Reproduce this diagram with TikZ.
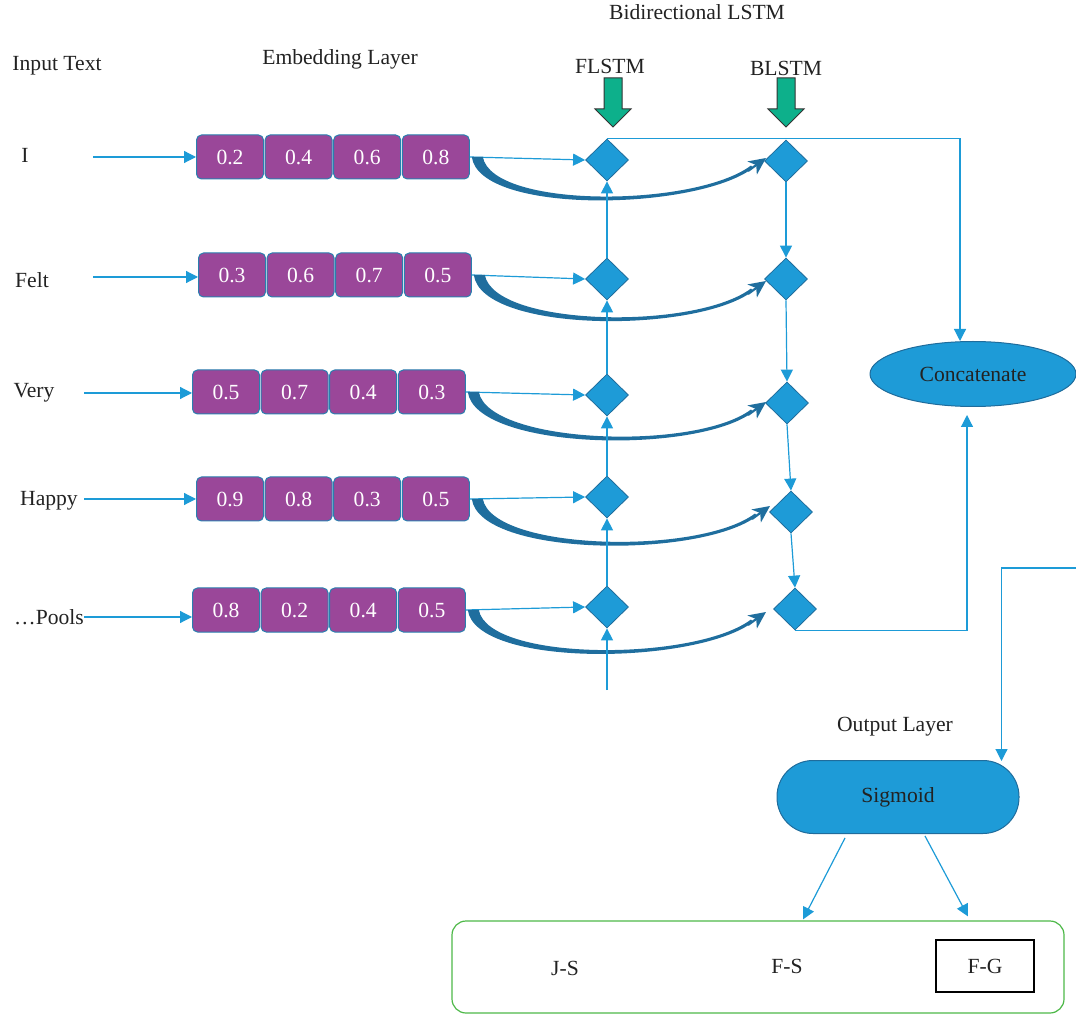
\documentclass[tikz,border=0pt]{standalone}
\usepackage{fontspec}
\setmainfont{Liberation Serif}
\usetikzlibrary{positioning,calc,shapes.geometric,arrows.meta}

\definecolor{flowblue}{HTML}{1D9BD7}
\definecolor{lstmblue}{HTML}{1E9BD7}
\definecolor{lstmedge}{HTML}{1F6C9C}
\definecolor{cellpurple}{HTML}{9A4799}
\definecolor{celledge}{HTML}{2A7FAF}
\definecolor{bendblue}{HTML}{1F6E9E}
\definecolor{downgreen}{HTML}{0DB08B}
\definecolor{boxgreen}{HTML}{4DB848}
\definecolor{textgray}{HTML}{222222}

\begin{document}
\begin{tikzpicture}[x=0.5pt,y=-0.5pt,font=\fontsize{10.8}{13}\selectfont,text=textgray]
    \tikzstyle{flow}=[draw=flowblue,line width=0.6pt,-{Triangle[length=6pt,width=6pt]}]
    \tikzstyle{cell}=[draw=celledge,fill=cellpurple,line width=0.5pt,rounded corners=2.5pt,minimum width=33.5pt,minimum height=22pt,inner sep=0pt,text=white]
    \tikzstyle{lstm}=[diamond,draw=lstmedge,fill=lstmblue,line width=0.4pt,minimum width=21.5pt,minimum height=21pt,inner sep=0pt]
    \tikzstyle{bandfill}=[fill=bendblue]
    \tikzstyle{bandtip}=[draw=bendblue,line width=1.1pt,-{Stealth[length=8.5pt,width=8pt,inset=2.5pt]}]
    \tikzstyle{blob}=[draw=lstmedge,fill=lstmblue,line width=0.5pt]

    \useasboundingbox (0,0) rectangle (1076,1015);

    % titles
    \node (bilstm) at (697,12) {Bidirectional LSTM};
    \node (intext) at (57,66) {Input Text};
    \node (emb) at (340,59) {Embedding Layer};
    \node (fl) at (610,66) {FLSTM};
    \node (bl) at (786,68) {BLSTM};

    % down arrows
    \foreach \x in {613,786} {
        \draw[draw=black!80,fill=downgreen,line width=0.5pt] (\x-9,78) -- (\x+9,78) -- (\x+9,109) -- (\x+18,109) -- (\x,127) -- (\x-18,109) -- (\x-9,109) -- cycle;
    }

    % words and embedding rows
    \foreach \i/\y/\cx/\word/\wx/\wy/\ax/\ay/\va/\vb/\vc/\vd in {
        1/157/196/I/25/155/93/157/0.2/0.4/0.6/0.8,
        2/275/198/Felt/32/280/93/277/0.3/0.6/0.7/0.5,
        3/392/192/Very/34/393/84/393/0.5/0.7/0.4/0.3,
        4/499/196/Happy/49/501/84/499/0.9/0.8/0.3/0.5,
        5/610/192/…Pools/49/617/84/617/0.8/0.2/0.4/0.5} {
        \node (w\i) at (\wx,\wy) {\word};
        \node[cell,anchor=west] (e\i-1) at (\cx,\y) {\va};
        \node[cell,right=0.3pt of e\i-1] (e\i-2) {\vb};
        \node[cell,right=0.3pt of e\i-2] (e\i-3) {\vc};
        \node[cell,right=0.3pt of e\i-3] (e\i-4) {\vd};
        \coordinate (in\i) at (\ax,\ay);
        \draw[flow] (in\i) -- (e\i-1.west |- in\i);
    }

    % lstm cells
    \foreach \i/\fy/\bx/\by in {1/160/786/161, 2/279/786/279, 3/395/787/403, 4/497/791/512, 5/607/795/609} {
        \node[lstm] (f\i) at (607,\fy) {};
        \node[lstm] (b\i) at (\bx,\by) {};
    }

    % into forward cells, bent arrows into backward cells
    \foreach \i/\tx/\ty in {1/766/158, 2/766/281, 3/766/402, 4/770/506, 5/766/612} {
        \draw[flow] (e\i-4.east) -- (f\i.west);
        \coordinate (t\i) at (\tx,\ty);
        \coordinate (s\i) at ($(e\i-4.east)+(2,0)$);
        \fill[bandfill] (s\i) .. controls +(8,58) and +(-57,43) .. ($(t\i)+(-13,10)$)
            -- ($(t\i)+(-15,7.5)$) .. controls +(-56,42) and +(10,52) .. ($(s\i)+(11,0)$) -- cycle;
        \draw[bandtip] ($(t\i)+(-18,13)$) -- (t\i);
    }

    % forward chain goes up
    \coordinate (fin) at (607,690);
    \draw[flow] (fin) -- (f5.south);
    \foreach \i/\j in {5/4,4/3,3/2,2/1} {
        \draw[flow] (f\i.north) -- (f\j.south);
    }
    % backward chain goes down
    \foreach \i/\j in {1/2,2/3,3/4,4/5} {
        \draw[flow] (b\i.south) -- (b\j.north);
    }

    % concatenate
    \node[blob,ellipse,minimum width=103pt,minimum height=32.5pt] (concat) at (973,374) {Concatenate};
    \draw[flow] (f1.north) -| ($(concat.north)+(-13,0)$);
    \draw[flow] (b5.south) -| ($(concat.south)+(-6,8)$);

    % output layer
    \node (outlbl) at (895,727) {Output Layer};
    \node[blob,rounded corners=18pt,minimum width=121pt,minimum height=36.5pt] (sigmoid) at (898,797) {Sigmoid};
    \coordinate (cout) at (1076,568);
    \draw[flow] (cout) -| ($(sigmoid.north east)+(-18,1)$);

    \node[draw=boxgreen,line width=0.6pt,rounded corners=7pt,minimum width=306pt,minimum height=46pt] (outbox) at (758,967) {};
    \node (js) at (565,968) {J-S};
    \node (fs) at (787,966) {F-S};
    \node[draw=black,line width=0.6pt,minimum width=49pt,minimum height=26pt] (fg) at (985,966) {F-G};
    \draw[flow] ($(sigmoid.south)+(-53,4)$) -- ($(outbox.north)+(45,-1)$);
    \draw[flow] ($(sigmoid.south)+(27,2)$) -- ($(outbox.north)+(210,-4)$);

\end{tikzpicture}
\end{document}
